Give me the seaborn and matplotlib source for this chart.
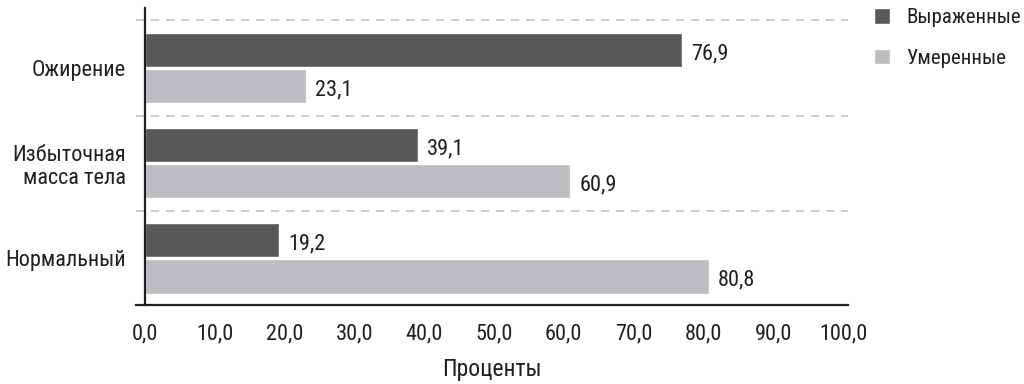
import matplotlib
matplotlib.use("Agg")
import matplotlib.pyplot as plt
import seaborn as sns
import pandas as pd

categories = ["Ожирение", "Избыточная\nмасса тела", "Нормальный"]
series_names = ["Выраженные", "Умеренные"]
severe = [76.9, 39.1, 19.2]
moderate = [23.1, 60.9, 80.8]
xticks = [0, 10, 20, 30, 40, 50, 60, 70, 80, 90, 100]
xtick_labels = ["0,0", "10,0", "20,0", "30,0", "40,0", "50,0", "60,0", "70,0", "80,0", "90,0", "100,0"]
x_label = "Проценты"

df = pd.DataFrame({
    "cat": categories * 2,
    "series": [series_names[0]] * 3 + [series_names[1]] * 3,
    "value": severe + moderate,
})

sns.set_style("white")
plt.rcParams["font.family"] = ["Roboto Condensed", "DejaVu Sans"]
text_color = "#231f20"
palette = {series_names[0]: "#58585a", series_names[1]: "#bcbdc0"}
fs = 16

fig = plt.figure(figsize=(10.24, 3.84), dpi=100)
ax = fig.add_axes([136 / 1024, 1 - 305 / 384, (848 - 136) / 1024, (305 - 8) / 384])

sns.barplot(data=df, y="cat", x="value", hue="series", order=categories,
            hue_order=series_names, palette=palette, orient="h",
            width=0.76, gap=0.05, saturation=1, ax=ax, legend=True)

px = (843 - 145) / 100.0
ax.set_xlim(-9 / px, 100 + 5 / px)
ax.set_ylim(2.49, -0.63)

for y in [-0.5, 0.5, 1.5]:
    ax.axhline(y, color="#c4c4c4", lw=1.2, ls=(0, (5, 4)), zorder=0)

for cont in ax.containers:
    for bar in cont:
        w = bar.get_width()
        ax.text(w + 1.3, bar.get_y() + bar.get_height() / 2 + 0.04,
                f"{w:.1f}".replace(".", ","), va="center", ha="left",
                fontsize=fs, color=text_color)

for s in ["top", "right"]:
    ax.spines[s].set_visible(False)
ax.spines["left"].set_position(("data", 0))
ax.spines["left"].set_color("#231f20")
ax.spines["bottom"].set_color("#231f20")
ax.spines["left"].set_linewidth(1.6)
ax.spines["bottom"].set_linewidth(1.6)

ax.set_xticks(xticks)
ax.set_xticklabels(xtick_labels, fontsize=fs, color=text_color)
ax.tick_params(axis="x", direction="out", length=8, width=1.2, color="#231f20", pad=5)
ax.tick_params(axis="y", length=0, pad=14, labelsize=fs, labelcolor=text_color)
for lab in ax.get_yticklabels():
    lab.set_horizontalalignment("right")
    lab.set_multialignment("right")
    lab.set_linespacing(1.15)
ax.set_ylabel("")
ax.set_xlabel(x_label, fontsize=fs + 1, color=text_color, labelpad=10)

ax.legend(loc="upper left", bbox_to_anchor=(868 / 1024, 0.995), bbox_transform=fig.transFigure,
          frameon=False, fontsize=15, handlelength=0.75, handleheight=0.75,
          handletextpad=0.8, labelspacing=1.05, title=None, labelcolor=text_color,
          borderaxespad=0, borderpad=0.3)

fig.savefig("out.png", dpi=100)
